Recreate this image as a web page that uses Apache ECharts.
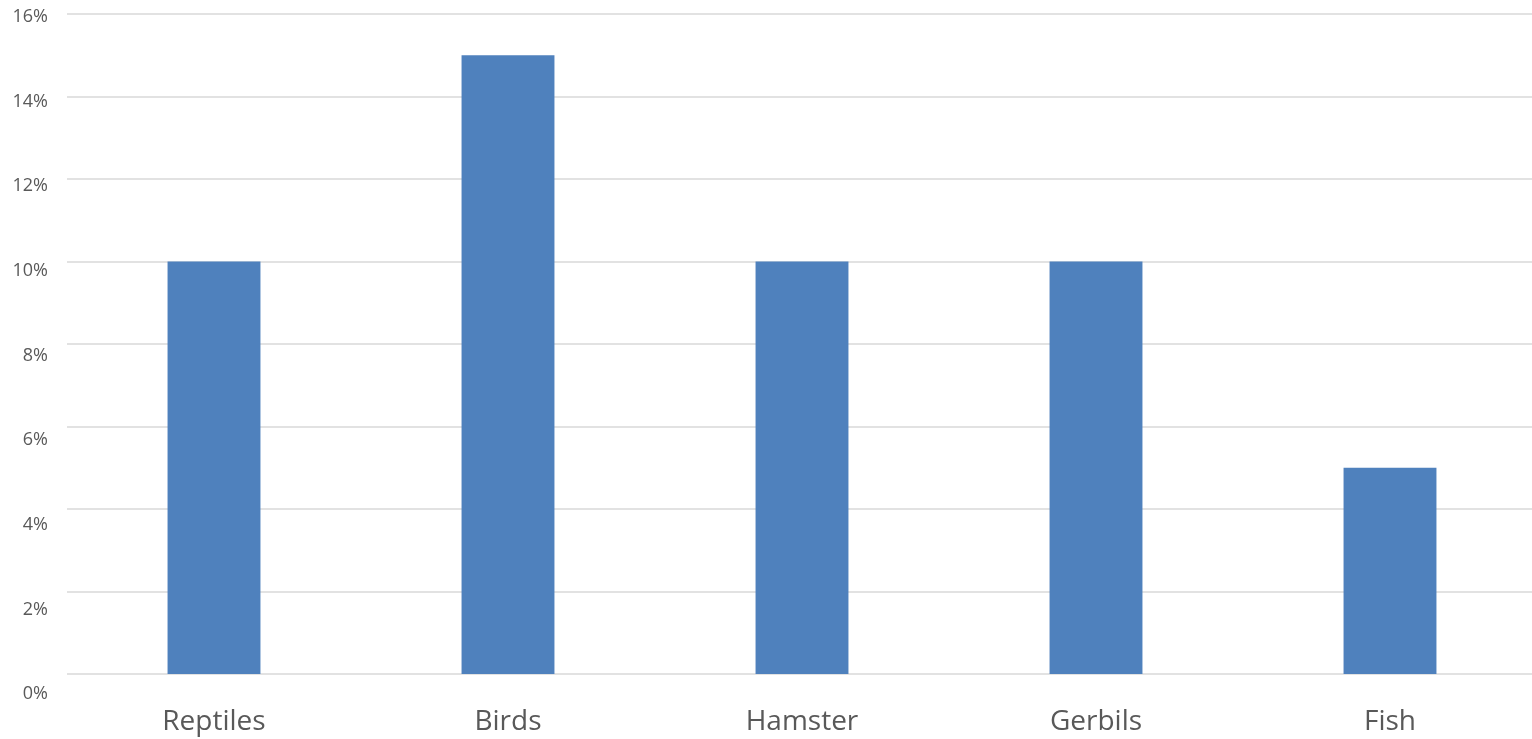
<!DOCTYPE html>
<html><head><meta charset="utf-8">
<script src="https://cdn.jsdelivr.net/npm/echarts@6/dist/echarts.min.js"></script>
<style>html,body{margin:0;padding:0;background:#fff}#c{width:1532px;height:739px}</style>
</head><body><div id="c"></div>
<script>
const categories = ['Reptiles', 'Birds', 'Hamster', 'Gerbils', 'Fish'];
const values = [10, 15, 10, 10, 5];
const yMin = 0, yMax = 16, yStep = 2;

const chart = echarts.init(document.getElementById('c'));
chart.setOption({
  animation: false,
  grid: [
    { left: 67, width: 1470, top: 14, bottom: 65, outerBoundsMode: 'none' },
    { left: 67, width: 1470, top: 17, bottom: 45, outerBoundsMode: 'none' }
  ],
  xAxis: [
    {
      gridIndex: 0, type: 'category', data: categories,
      axisLine: { show: false }, axisTick: { show: false },
      axisLabel: { color: '#595959', fontSize: 28, fontFamily: 'Open Sans', margin: 34 }
    },
    { gridIndex: 1, type: 'category', data: categories, show: false }
  ],
  yAxis: [
    {
      gridIndex: 0, type: 'value', min: yMin, max: yMax, interval: yStep,
      axisLabel: { show: false },
      axisLine: { show: false }, axisTick: { show: false },
      splitLine: { lineStyle: { color: '#d9d9d9', width: 1.5 } }
    },
    {
      gridIndex: 1, type: 'value', min: yMin, max: yMax, interval: yStep,
      axisLabel: { color: '#595959', fontSize: 18, fontFamily: 'Open Sans', formatter: '{value}%', margin: 19 },
      axisLine: { show: false }, axisTick: { show: false }, splitLine: { show: false }
    }
  ],
  series: [{
    type: 'bar', xAxisIndex: 0, yAxisIndex: 0, data: values,
    barWidth: '31.6%', itemStyle: { color: '#4F81BD' }
  }]
});
</script></body></html>
